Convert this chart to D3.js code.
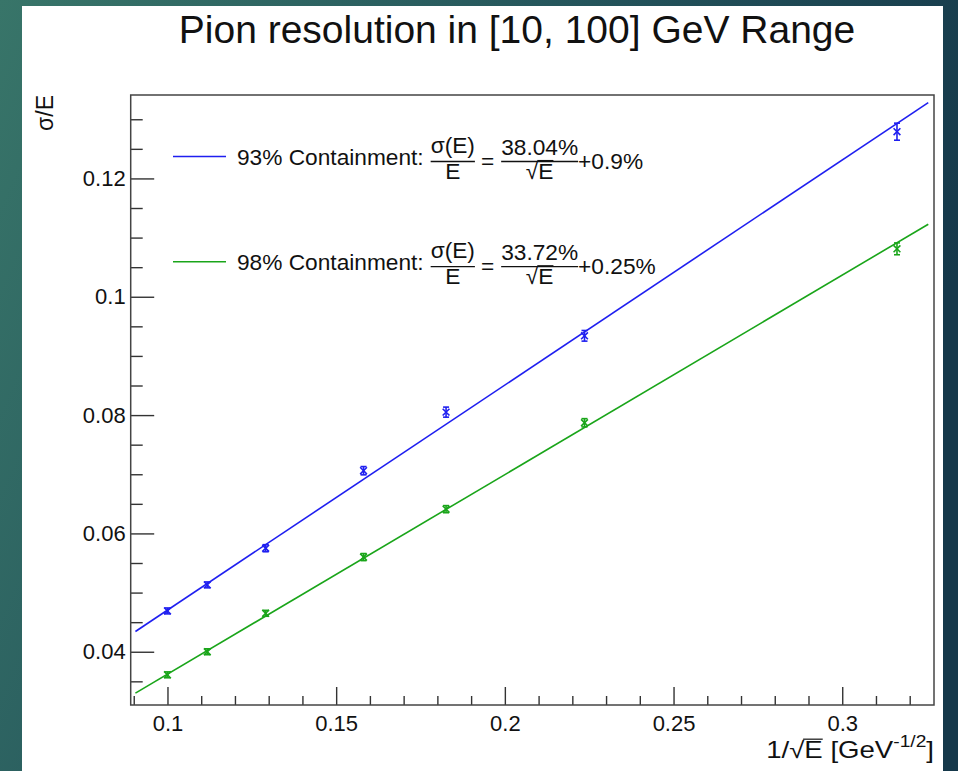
<!DOCTYPE html>
<html>
<head>
<meta charset="utf-8">
<script src="https://cdn.jsdelivr.net/npm/d3@7"></script>
<style>
  html, body { margin: 0; padding: 0; background: #1d4a55; }
  svg { display: block; }
  text { font-family: "Liberation Sans", Arial, Helvetica, sans-serif; fill: #111; }
</style>
</head>
<body>
<svg id="chart" width="958" height="771"></svg>
<script>
// Beam energies (GeV); the x coordinate is 1/sqrt(E)
const energies = [100, 80, 60, 40, 30, 20, 10];

// Measured sigma/E for the two containment definitions
const res93 = [0.0469, 0.0513, 0.0575, 0.0706, 0.0805, 0.0934, 0.1279];
const err93 = [0.0005, 0.0005, 0.0006, 0.0007, 0.00085, 0.0009, 0.00144];
const res98 = [0.0361, 0.0400, 0.0465, 0.0560, 0.0641, 0.0787, 0.1081];
const err98 = [0.0005, 0.0005, 0.0005, 0.0006, 0.0006, 0.0007, 0.0010];

// Fit results: sigma/E = a/sqrt(E) + b
const fitNames = ["93% Containment:", "98% Containment:"];
const fitStoch = [0.3804, 0.3372];
const fitConst = [0.009, 0.0025];
const fitStochLabel = ["38.04%", "33.72%"];
const fitConstLabel = ["+0.9%", "+0.25%"];
const fitRange = [0.0905, 0.3255];
const seriesColors = ["#1f1ff0", "#1aa51a"];

// Axis settings
const xDomain = [0.0891, 0.3272];
const yDomain = [0.0310, 0.1341];
const xMajor = [0.1, 0.15, 0.2, 0.25, 0.3];
const xTickLabels = ["0.1", "0.15", "0.2", "0.25", "0.3"];
const yMajor = [0.04, 0.06, 0.08, 0.1, 0.12];
const yTickLabels = ["0.04", "0.06", "0.08", "0.1", "0.12"];
const titleText = "Pion resolution in [10, 100] GeV Range";

const svg = d3.select("#chart");
const FONT = "Liberation Sans, Arial, Helvetica, sans-serif";

// Slide background
const defs = svg.append("defs");
const grad = defs.append("linearGradient").attr("id", "bg")
  .attr("x1", "0").attr("y1", "0").attr("x2", "1").attr("y2", "0.35");
grad.append("stop").attr("offset", "0").attr("stop-color", "#387569");
grad.append("stop").attr("offset", "0.55").attr("stop-color", "#24545b");
grad.append("stop").attr("offset", "1").attr("stop-color", "#15384a");
svg.append("rect").attr("width", 958).attr("height", 771).attr("fill", "url(#bg)");

// White canvas
svg.append("rect").attr("x", 22).attr("y", 6).attr("width", 921).attr("height", 765).attr("fill", "#fff");

const frame = { left: 130.7, right: 934, top: 95, bottom: 705 };
const x = d3.scaleLinear().domain(xDomain).range([frame.left, frame.right]);
const y = d3.scaleLinear().domain(yDomain).range([frame.bottom, frame.top]);

// Title
svg.append("text")
  .attr("x", 517).attr("y", 43)
  .attr("text-anchor", "middle")
  .style("font-size", "39px")
  .text(titleText);

// Minor tick values
const xMinor = d3.range(9, 33).map(i => i / 100).filter(v => v >= xDomain[0] && v <= xDomain[1]);
const yMinor = d3.range(7, 27).map(i => i * 0.005).filter(v => v >= yDomain[0] && v <= yDomain[1]);
const isMajor = (list, d) => list.some(m => Math.abs(m - d) < 1e-9);

// X axis
const xAxisG = svg.append("g").attr("transform", `translate(0,${frame.bottom})`);
xAxisG.call(d3.axisBottom(x).tickValues(xMinor).tickSize(0).tickFormat(""));
xAxisG.select(".domain").remove();
xAxisG.selectAll(".tick line").remove();
xAxisG.selectAll(".tick").append("line")
  .attr("y1", 0)
  .attr("y2", d => isMajor(xMajor, d) ? -18 : -9)
  .attr("stroke", "#333").attr("stroke-width", 1.4);
const xLab = svg.append("g").attr("transform", `translate(0,${frame.bottom})`)
  .call(d3.axisBottom(x).tickValues(xMajor).tickSize(0).tickPadding(10)
    .tickFormat((d, i) => xTickLabels[i]));
xLab.select(".domain").remove();
xLab.selectAll("text").style("font-size", "22px").style("font-family", FONT).attr("fill", "#111");

// Y axis
const yAxisG = svg.append("g").attr("transform", `translate(${frame.left},0)`);
yAxisG.call(d3.axisLeft(y).tickValues(yMinor).tickSize(0).tickFormat(""));
yAxisG.select(".domain").remove();
yAxisG.selectAll(".tick line").remove();
yAxisG.selectAll(".tick").append("line")
  .attr("x1", 0)
  .attr("x2", d => isMajor(yMajor, d) ? 23.5 : 12)
  .attr("stroke", "#333").attr("stroke-width", 1.4);
const yLab = svg.append("g").attr("transform", `translate(${frame.left},0)`)
  .call(d3.axisLeft(y).tickValues(yMajor).tickSize(0).tickPadding(5)
    .tickFormat((d, i) => yTickLabels[i]));
yLab.select(".domain").remove();
yLab.selectAll("text").style("font-size", "22px").style("font-family", FONT).attr("fill", "#111");

// Frame
svg.append("rect")
  .attr("x", frame.left).attr("y", frame.top)
  .attr("width", frame.right - frame.left).attr("height", frame.bottom - frame.top)
  .attr("fill", "none").attr("stroke", "#444").attr("stroke-width", 1.5);

// Axis titles
svg.append("text")
  .attr("transform", "translate(53,95) rotate(-90)")
  .attr("text-anchor", "end")
  .style("font-size", "23px")
  .text("σ/E");

// x title is drawn slightly widened, ROOT-style
const xTitleG = svg.append("g").attr("transform", "translate(934,758) scale(1.2,1)");
const xTitle = xTitleG.append("text")
  .attr("x", 0).attr("y", 0)
  .attr("text-anchor", "end")
  .style("font-size", "23px");
xTitle.append("tspan").text("1/√");
xTitle.append("tspan").attr("class", "sqE").text("E");
xTitle.append("tspan").text(" [GeV");
xTitle.append("tspan").attr("dy", -11).style("font-size", "16px").text("-1/2");
xTitle.append("tspan").attr("dy", 11).text("]");
// overline of the square root
{
  const bb = xTitle.select(".sqE").node().getBBox();
  xTitleG.append("line")
    .attr("x1", bb.x - 1).attr("x2", bb.x + bb.width)
    .attr("y1", bb.y + 2).attr("y2", bb.y + 2)
    .attr("stroke", "#111").attr("stroke-width", 1.2);
}

// Fit lines and data points
const xs = energies.map(e => 1 / Math.sqrt(e));
const allRes = [res93, res98];
const allErr = [err93, err98];

const plot = svg.append("g");
fitStoch.forEach((a, k) => {
  const b = fitConst[k];
  const line = d3.line().x(d => x(d)).y(d => y(a * d + b));
  plot.append("path")
    .datum(fitRange)
    .attr("d", line)
    .attr("fill", "none")
    .attr("stroke", seriesColors[k])
    .attr("stroke-width", 1.6);
});

allRes.forEach((vals, k) => {
  const col = seriesColors[k];
  const g = plot.append("g").attr("stroke", col).attr("stroke-width", 1.6).attr("fill", "none");
  const pts = g.selectAll("g.pt").data(vals.map((v, i) => ({ x: xs[i], v, e: allErr[k][i] })))
    .join("g").attr("class", "pt");
  // error bar with caps
  pts.append("line")
    .attr("x1", d => x(d.x)).attr("x2", d => x(d.x))
    .attr("y1", d => y(d.v - d.e)).attr("y2", d => y(d.v + d.e));
  pts.append("line")
    .attr("x1", d => x(d.x) - 3).attr("x2", d => x(d.x) + 3)
    .attr("y1", d => y(d.v - d.e)).attr("y2", d => y(d.v - d.e));
  pts.append("line")
    .attr("x1", d => x(d.x) - 3).attr("x2", d => x(d.x) + 3)
    .attr("y1", d => y(d.v + d.e)).attr("y2", d => y(d.v + d.e));
  // x-shaped marker
  pts.append("path")
    .attr("d", d => {
      const cx = x(d.x), cy = y(d.v), r = 3.4;
      return `M${cx - r},${cy - r}L${cx + r},${cy + r}M${cx - r},${cy + r}L${cx + r},${cy - r}`;
    });
});

// Legend with fit formulas
const legendRows = [156.5, 261.7];
const LFS = "22.7px";
fitNames.forEach((name, k) => {
  const cy = legendRows[k];
  const lg = svg.append("g");
  lg.append("line")
    .attr("x1", 173).attr("x2", 226).attr("y1", cy).attr("y2", cy)
    .attr("stroke", seriesColors[k]).attr("stroke-width", 1.6);
  const lbl = lg.append("text").attr("x", 237).attr("y", cy + 8)
    .style("font-size", LFS).text(name);
  const lb = lbl.node().getBBox();

  // sigma(E)/E fraction
  const n1 = lg.append("text").attr("x", lb.x + lb.width + 7).attr("y", cy - 4)
    .style("font-size", LFS).text("σ(E)");
  const b1 = n1.node().getBBox();
  const f1 = b1.x + b1.width / 2;
  lg.append("line").attr("x1", b1.x).attr("x2", b1.x + b1.width).attr("y1", cy + 5).attr("y2", cy + 5)
    .attr("stroke", "#111").attr("stroke-width", 1.3);
  lg.append("text").attr("x", f1).attr("y", cy + 22).attr("text-anchor", "middle")
    .style("font-size", LFS).text("E");

  const eq = lg.append("text").attr("x", b1.x + b1.width + 6).attr("y", cy + 12)
    .style("font-size", LFS).text("=");
  const eqb = eq.node().getBBox();

  // stochastic term fraction
  const num = lg.append("text").attr("x", eqb.x + eqb.width + 7).attr("y", cy - 2)
    .style("font-size", LFS).text(fitStochLabel[k]);
  const nb = num.node().getBBox();
  const f2 = nb.x + nb.width / 2;
  lg.append("line").attr("x1", nb.x).attr("x2", nb.x + nb.width).attr("y1", cy + 5).attr("y2", cy + 5)
    .attr("stroke", "#111").attr("stroke-width", 1.3);
  const den = lg.append("text").attr("x", f2).attr("y", cy + 22).attr("text-anchor", "middle")
    .style("font-size", LFS);
  den.append("tspan").text("√");
  const dE = den.append("tspan").text("E");
  const eb = dE.node().getBBox();
  lg.append("line").attr("x1", eb.x - 1).attr("x2", eb.x + eb.width).attr("y1", eb.y + 3).attr("y2", eb.y + 3)
    .attr("stroke", "#111").attr("stroke-width", 1.1);

  lg.append("text").attr("x", nb.x + nb.width).attr("y", cy + 12)
    .style("font-size", LFS).text(fitConstLabel[k]);
});
</script>
</body>
</html>
